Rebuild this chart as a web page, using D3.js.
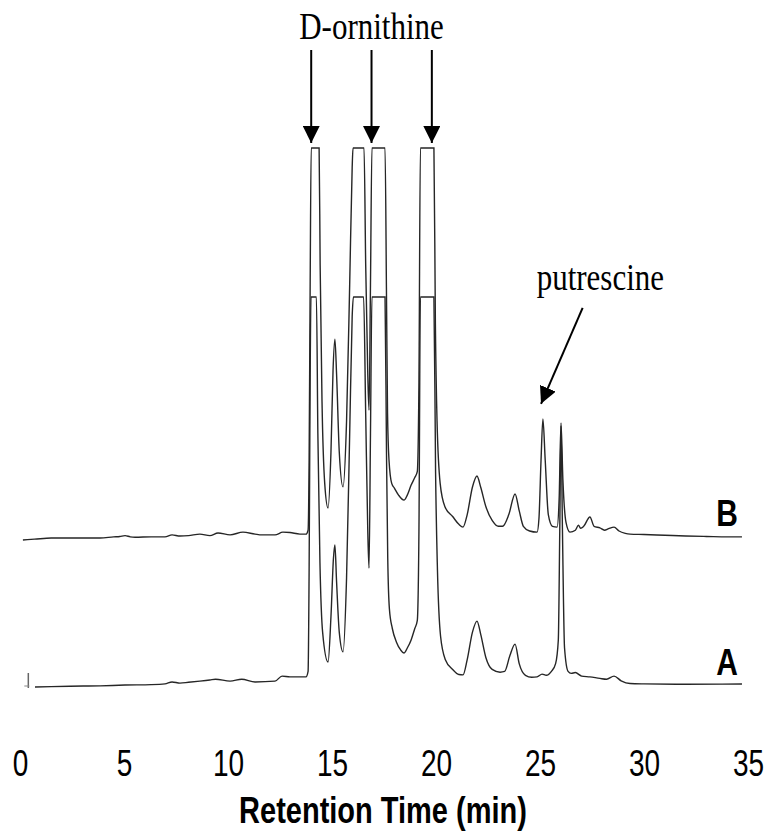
<!DOCTYPE html>
<html>
<head>
<meta charset="utf-8">
<script src="https://cdn.jsdelivr.net/npm/d3@7"></script>
<style>
  body { margin: 0; background: #fff; }
</style>
</head>
<body>
<script>
// chromatogram traces, [time (min), response], response clipped at 100
var traceB = [[0.14,-0.5],[0.7,-0.3],[1.5,0],[2.4,0],[3.3,0],[3.85,0],[4.5,0.3],[4.8,0.4],[5.05,0.6],[5.3,0.3],[5.53,0.2],[6.3,0.3],[6.97,0.3],[7.31,0.8],[7.69,0.5],[8.1,0.6],[8.65,1.0],[9.13,0.6],[9.52,1.3],[10.1,0.8],[10.72,1.5],[11.3,1.0],[11.63,0.8],[12.26,0.8],[12.64,1.5],[12.98,1.4],[13.46,1.0],[13.75,1.0],
  [13.85,2],[13.9,20],[13.95,65],[14.0,100],[14.38,100],[14.43,70],[14.52,35],[14.65,14],[14.81,7.7],[14.95,22],[15.05,43],[15.14,51],[15.22,42],[15.35,22],[15.53,13.1],[15.7,30],[15.85,65],[15.97,95],[16.01,100],[16.54,100],[16.62,70],[16.72,42],[16.78,32.8],[16.85,65],[16.92,100],[17.55,100],[17.62,62],[17.67,32],[17.74,20],[17.87,14],[18.0,12.8],[18.2,11],[18.46,9.7],[18.62,11],[18.8,13.5],[18.98,15.5],[19.1,17],[19.18,40],[19.25,100],[19.9,100],[19.97,55],[20.05,30],[20.2,14],[20.43,8],[20.8,5.5],[21.1,3.5],[21.3,2.8],[21.5,6],[21.75,13],[21.97,15.9],[22.15,13],[22.4,8],[22.7,4.5],[23.0,3],[23.2,3],[23.5,6],[23.8,11.3],[24.0,7],[24.2,3],[24.5,1.8],[24.86,1.5],[24.95,5],[25.05,20],[25.14,30.5],[25.25,20],[25.4,6],[25.6,3],[25.82,2.8],[25.92,10],[26.01,29.5],[26.1,15],[26.25,4],[26.44,1.5],[26.7,2],[26.85,3.3],[26.95,2.5],[27.1,3],[27.4,5.4],[27.6,3],[27.88,2.6],[28.1,2],[28.3,2.4],[28.56,2.8],[28.8,1.8],[29.1,1.2],[29.33,1.0],[30,0.9],[31,0.7],[32,0.5],[33,0.4],[34,0.3],[34.71,0.3]];

var traceA = [[0.72,0],[1.5,0.1],[2.4,0.2],[3.85,0.3],[5.05,0.5],[6.3,0.6],[6.97,0.8],[7.31,1.3],[7.69,1.0],[8.1,1.2],[8.65,1.5],[9.13,1.8],[9.4,2.0],[10.1,1.5],[10.66,2.0],[11.3,1.3],[12.26,1.5],[12.6,2.8],[12.98,2.6],[13.46,2.6],[13.75,2.6],
  [13.85,4],[13.9,30],[13.95,80],[13.99,100],[14.25,100],[14.32,65],[14.42,32],[14.55,14],[14.81,6.4],[14.95,18],[15.07,33],[15.14,36.4],[15.22,27],[15.35,14],[15.53,9.0],[15.7,28],[15.85,65],[15.97,95],[16.03,100],[16.52,100],[16.62,70],[16.72,40],[16.78,30.5],[16.85,65],[16.92,100],[17.55,100],[17.62,60],[17.68,33],[17.76,20],[17.9,15],[18.1,11.5],[18.3,9.5],[18.46,8.7],[18.62,10],[18.8,12],[18.98,15],[19.1,17],[19.18,40],[19.25,100],[19.9,100],[19.98,55],[20.07,30],[20.22,13],[20.45,7],[20.8,4.5],[21.1,3.2],[21.3,3.1],[21.5,7],[21.75,14],[21.97,16.9],[22.15,13.5],[22.4,7.5],[22.7,4.5],[23.08,3.8],[23.3,4],[23.55,8],[23.8,11.0],[24.0,6],[24.3,3],[24.6,2.5],[24.86,2.6],[25.1,3.3],[25.3,3],[25.55,4],[25.75,6],[25.88,12],[25.95,40],[26.01,67],[26.08,40],[26.18,10],[26.35,4],[26.5,3.5],[26.7,3.7],[27.0,2.8],[27.4,2.6],[27.88,2.2],[28.2,2.0],[28.56,2.8],[28.9,1.6],[29.33,0.9],[30,0.8],[32,0.7],[34.71,0.77]];

var xTicks = [0, 5, 10, 15, 20, 25, 30, 35];
var traceNames = ["B", "A"];
var ornithineTimes = [14.0, 16.9, 19.8];
var putrescineArrow = [[27.05, 59], [25.05, 34.4]]; // tail, tip on trace B
var injectTime = 0.4;

var w = 768, h = 834;

var svg = d3.select("body").append("svg")
    .attr("width", w)
    .attr("height", h);

var x = d3.scaleLinear().domain([0, 35]).range([20, 748]);
var yB = d3.scaleLinear().domain([0, 100]).range([538, 148]);
var yA = d3.scaleLinear().domain([0, 100]).range([687, 297]);

var sans = "'Liberation Sans', Arial, sans-serif";
var serif = "'Liberation Serif', 'Times New Roman', serif";

svg.append("defs").append("marker")
    .attr("id", "head")
    .attr("markerUnits", "userSpaceOnUse")
    .attr("viewBox", "0 0 10 10")
    .attr("refX", 10)
    .attr("refY", 5)
    .attr("markerWidth", 17)
    .attr("markerHeight", 17)
    .attr("orient", "auto")
    .append("path")
    .attr("d", "M0,0 L10,5 L0,10 Z")
    .style("fill", "#000");

// text in the picture is a bit taller than normal
function label(px, py, str, font, size, weight, anchor, sy) {
    return svg.append("text")
        .attr("transform", "translate(" + px + "," + py + ") scale(1," + sy + ")")
        .attr("text-anchor", anchor)
        .style("font-family", font)
        .style("font-size", size + "px")
        .style("font-weight", weight)
        .text(str);
}

function drawTrace(data, y) {
    var line = d3.line()
        .x(function(d) { return x(d[0]); })
        .y(function(d) { return y(Math.min(d[1], 100)); })
        .curve(d3.curveMonotoneX);
    svg.append("path")
        .datum(data)
        .attr("d", line)
        .style("fill", "none")
        .style("stroke", "#262626")
        .style("stroke-width", 1.4);
}

drawTrace(traceB, yB);
drawTrace(traceA, yA);

// injection mark
svg.append("line")
    .attr("x1", x(injectTime)).attr("x2", x(injectTime))
    .attr("y1", yA(0) - 14).attr("y2", yA(0) + 1)
    .style("stroke", "#666").style("stroke-width", 1.5);
svg.append("line")
    .attr("x1", x(injectTime) - 4).attr("x2", x(injectTime) + 1)
    .attr("y1", yA(0) - 1).attr("y2", yA(0) - 1)
    .style("stroke", "#888").style("stroke-width", 1);

// trace labels
traceNames.forEach(function(d) {
    var py = d === "B" ? yB(0) - 12 : yA(0) - 12;
    label(727, py, d, sans, 30, "bold", "middle", 1.2);
});

// D-ornithine arrows
label(x(d3.mean(ornithineTimes)), 39, "D-ornithine", serif, 31, "normal", "middle", 1.2);

svg.selectAll(".orn")
    .data(ornithineTimes)
    .enter().append("line")
    .attr("class", "orn")
    .attr("x1", function(d) { return x(d); })
    .attr("x2", function(d) { return x(d); })
    .attr("y1", 50)
    .attr("y2", 143)
    .style("stroke", "#000")
    .style("stroke-width", 2)
    .attr("marker-end", "url(#head)");

// putrescine arrow
svg.append("line")
    .attr("x1", x(putrescineArrow[0][0])).attr("y1", yB(putrescineArrow[0][1]))
    .attr("x2", x(putrescineArrow[1][0])).attr("y2", yB(putrescineArrow[1][1]))
    .style("stroke", "#000")
    .style("stroke-width", 2)
    .attr("marker-end", "url(#head)");

label(x(putrescineArrow[0][0]) - 46, yB(putrescineArrow[0][1]) - 18, "putrescine", serif, 31, "normal", "start", 1.2);

// x axis, no line
var xAxis = d3.axisBottom(x)
    .tickValues(xTicks)
    .tickSize(0)
    .tickPadding(0);

var ax = svg.append("g")
    .attr("transform", "translate(0,776)")
    .call(xAxis);
ax.select(".domain").remove();
ax.selectAll("text")
    .attr("dy", 0)
    .attr("transform", "scale(1,1.3)")
    .attr("y", 0)
    .style("font-family", sans)
    .style("font-size", "28px")
    .style("fill", "#000");

label(383, 823, "Retention Time (min)", sans, 29, "bold", "middle", 1.25);
</script>
</body>
</html>
